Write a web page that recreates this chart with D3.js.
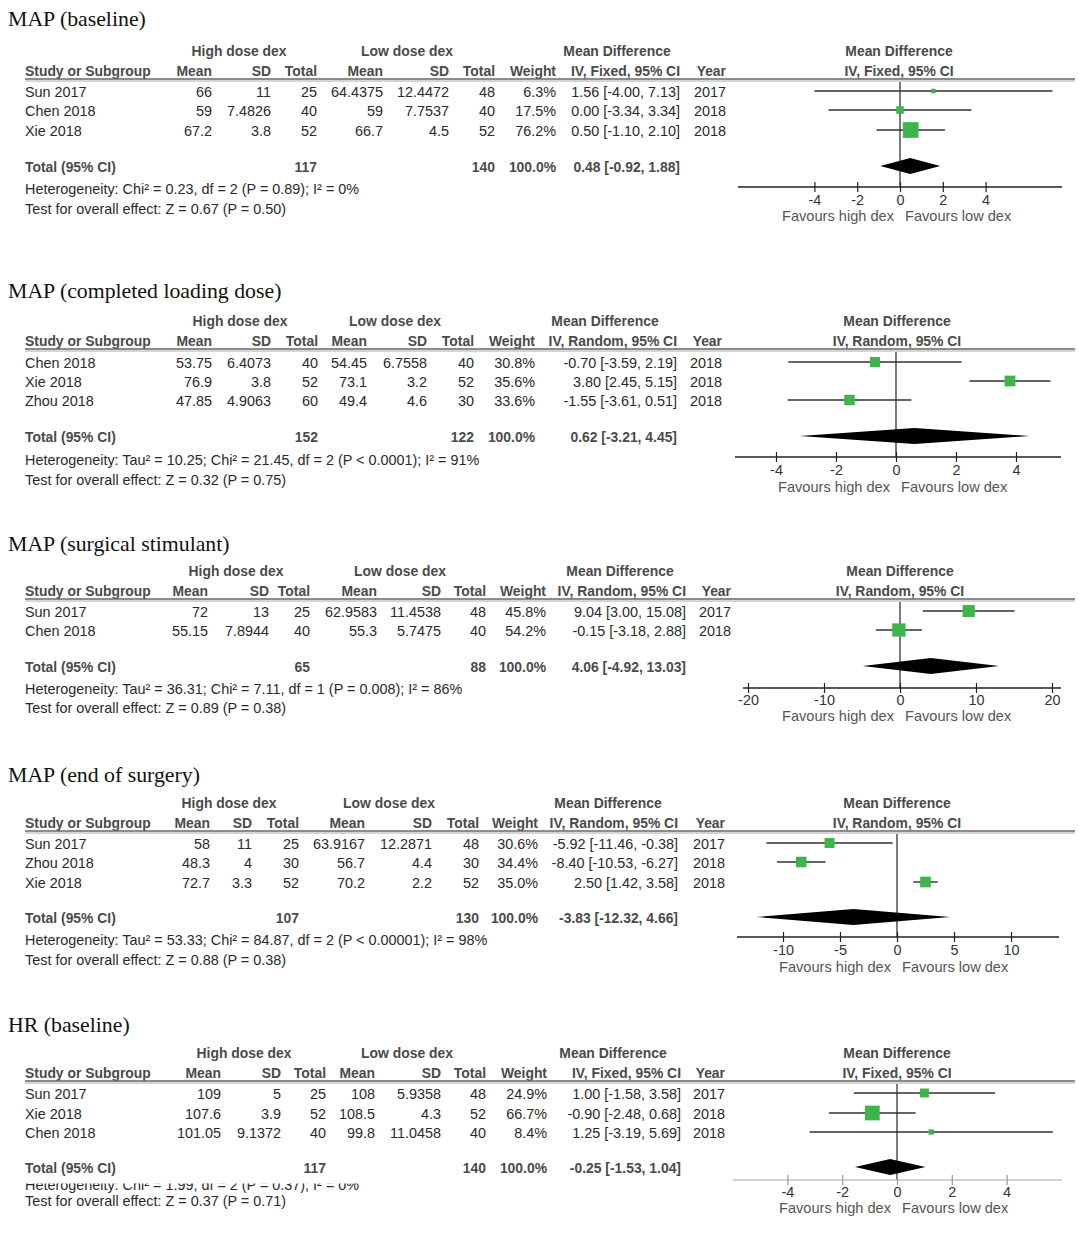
<!DOCTYPE html>
<html><head><meta charset="utf-8">
<script src="https://cdn.jsdelivr.net/npm/d3@7"></script>
<style>
html,body{margin:0;padding:0;background:#fff;}
svg{display:block;}
</style></head>
<body>
<script>
// ---------------- DATA ----------------
const panelTitles = ["MAP (baseline)", "MAP (completed loading dose)", "MAP (surgical stimulant)", "MAP (end of surgery)", "HR (baseline)"];
const methods = ["IV, Fixed, 95% CI", "IV, Random, 95% CI", "IV, Random, 95% CI", "IV, Random, 95% CI", "IV, Fixed, 95% CI"];
const studies = [
  ["Sun 2017", "Chen 2018", "Xie 2018"],
  ["Chen 2018", "Xie 2018", "Zhou 2018"],
  ["Sun 2017", "Chen 2018"],
  ["Sun 2017", "Zhou 2018", "Xie 2018"],
  ["Sun 2017", "Xie 2018", "Chen 2018"]
];
const years = [
  [2017, 2018, 2018], [2018, 2018, 2018], [2017, 2018], [2017, 2018, 2018], [2017, 2018, 2018]
];
const highMean = [[66, 59, 67.2], [53.75, 76.9, 47.85], [72, 55.15], [58, 48.3, 72.7], [109, 107.6, 101.05]];
const highSD   = [[11, 7.4826, 3.8], [6.4073, 3.8, 4.9063], [13, 7.8944], [11, 4, 3.3], [5, 3.9, 9.1372]];
const highN    = [[25, 40, 52], [40, 52, 60], [25, 40], [25, 30, 52], [25, 52, 40]];
const lowMean  = [[64.4375, 59, 66.7], [54.45, 73.1, 49.4], [62.9583, 55.3], [63.9167, 56.7, 70.2], [108, 108.5, 99.8]];
const lowSD    = [[12.4472, 7.7537, 4.5], [6.7558, 3.2, 4.6], [11.4538, 5.7475], [12.2871, 4.4, 2.2], [5.9358, 4.3, 11.0458]];
const lowN     = [[48, 40, 52], [40, 52, 30], [48, 40], [48, 30, 52], [48, 52, 40]];
const weights  = [[6.3, 17.5, 76.2], [30.8, 35.6, 33.6], [45.8, 54.2], [30.6, 34.4, 35.0], [24.9, 66.7, 8.4]];
const md       = [[1.56, 0.00, 0.50], [-0.70, 3.80, -1.55], [9.04, -0.15], [-5.92, -8.40, 2.50], [1.00, -0.90, 1.25]];
const ciLow    = [[-4.00, -3.34, -1.10], [-3.59, 2.45, -3.61], [3.00, -3.18], [-11.46, -10.53, 1.42], [-1.58, -2.48, -3.19]];
const ciHigh   = [[7.13, 3.34, 2.10], [2.19, 5.15, 0.51], [15.08, 2.88], [-0.38, -6.27, 3.58], [3.58, 0.68, 5.69]];
const totalHighN = [117, 152, 65, 107, 117];
const totalLowN  = [140, 122, 88, 130, 140];
const totalMD    = [0.48, 0.62, 4.06, -3.83, -0.25];
const totalLow   = [-0.92, -3.21, -4.92, -12.32, -1.53];
const totalHigh  = [1.88, 4.45, 13.03, 4.66, 1.04];
const heterogeneity = [
  "Heterogeneity: Chi² = 0.23, df = 2 (P = 0.89); I² = 0%",
  "Heterogeneity: Tau² = 10.25; Chi² = 21.45, df = 2 (P < 0.0001); I² = 91%",
  "Heterogeneity: Tau² = 36.31; Chi² = 7.11, df = 1 (P = 0.008); I² = 86%",
  "Heterogeneity: Tau² = 53.33; Chi² = 84.87, df = 2 (P < 0.00001); I² = 98%",
  "Heterogeneity: Chi² = 1.99, df = 2 (P = 0.37); I² = 0%"
];
const overallEffect = [
  "Test for overall effect: Z = 0.67 (P = 0.50)",
  "Test for overall effect: Z = 0.32 (P = 0.75)",
  "Test for overall effect: Z = 0.89 (P = 0.38)",
  "Test for overall effect: Z = 0.88 (P = 0.38)",
  "Test for overall effect: Z = 0.37 (P = 0.71)"
];
const axisTicks = [[-4, -2, 0, 2, 4], [-4, -2, 0, 2, 4], [-20, -10, 0, 10, 20], [-10, -5, 0, 5, 10], [-4, -2, 0, 2, 4]];
const groupLabels = ["High dose dex", "Low dose dex"];
const favourLabels = ["Favours high dex", "Favours low dex"];

// ---------------- LAYOUT ----------------
const layout = [
  {title:19, h1:51, h2:71, rule:80, rows:[92,111,131], total:167, het:189, test:209, axis:187, ticks:200, fav:216,
   cols:[212,271,317,383,449,495,556,680,726], grp:[239,407,617,899], zero:900, ppu:21.4, ax0:738, ax1:1062},
  {title:291, h1:321, h2:341, rule:350, rows:[363,382,401], total:437, het:460, test:480, axis:457, ticks:470, fav:487,
   cols:[212,271,318,367,427,474,535,677,722], grp:[240,395,605,897], zero:896, ppu:30, ax0:735, ax1:1061},
  {title:544, h1:571, h2:591, rule:600, rows:[612,631], total:667, het:689, test:708, axis:688, ticks:700, fav:716,
   cols:[208,269,310,377,441,486,546,686,731], grp:[236,400,620,900], zero:900, ppu:7.6, ax0:743, ax1:1061},
  {title:775, h1:803, h2:823, rule:832, rows:[844,863,883], total:918, het:940, test:960, axis:937, ticks:950, fav:967,
   cols:[210,252,299,365,432,479,538,678,725], grp:[229,389,608,897], zero:897, ppu:11.4, ax0:737, ax1:1059},
  {title:1025, h1:1053, h2:1073, rule:1082, rows:[1094,1114,1133], total:1168, het:1185, test:1201, axis:1180, ticks:1192, fav:1208,
   cols:[221,281,326,375,441,486,547,681,725], grp:[244,407,613,897], zero:897, ppu:27.4, ax0:733, ax1:1062,
   hetClip:1183.5, axisColor:"#c4c4c4"}
];

const W = 1079, H = 1241;
const FONT = "'Liberation Sans', Arial, sans-serif";
const SERIF = "'Liberation Serif', 'Times New Roman', serif";
const fs = 14.4, fsBold = 13.9, base = 5;
const sizeScale = d3.scaleSqrt().domain([0, 100]).range([0, 18]);
const fmt2 = v => v.toFixed(2);
const ciText = (m, l, h) => `${fmt2(m)} [${fmt2(l)}, ${fmt2(h)}]`;

const svg = d3.select("body").append("svg").attr("width", W).attr("height", H)
  .style("font-family", FONT);
svg.append("rect").attr("width", W).attr("height", H).attr("fill", "#fff");

layout.forEach((L, p) => {
  const g = svg.append("g");
  const txt = (x, y, s, opt = {}) => g.append("text")
    .attr("x", x).attr("y", y + base)
    .attr("text-anchor", opt.anchor || "start")
    .attr("font-size", opt.size || (opt.bold ? fsBold : fs))
    .attr("font-weight", opt.bold ? "bold" : "normal")
    .attr("fill", opt.fill || "#2a2a2a")
    .text(s);

  // Title
  g.append("text").attr("x", 8).attr("y", L.title + 7)
    .attr("font-family", SERIF).attr("font-size", 21.8).attr("fill", "#111")
    .text(panelTitles[p]);

  const hc = "#4a4a4a";
  // header row 1
  txt(L.grp[0], L.h1, groupLabels[0], {anchor: "middle", bold: true, fill: hc});
  txt(L.grp[1], L.h1, groupLabels[1], {anchor: "middle", bold: true, fill: hc});
  txt(L.grp[2], L.h1, "Mean Difference", {anchor: "middle", bold: true, fill: hc});
  txt(L.grp[3], L.h1, "Mean Difference", {anchor: "middle", bold: true, fill: hc});
  // header row 2
  txt(25, L.h2, "Study or Subgroup", {bold: true, fill: hc});
  const hdr = ["Mean", "SD", "Total", "Mean", "SD", "Total", "Weight", methods[p], "Year"];
  hdr.forEach((h, i) => txt(L.cols[i], L.h2, h, {anchor: "end", bold: true, fill: hc}));
  txt(L.grp[3], L.h2, methods[p], {anchor: "middle", bold: true, fill: hc});

  // header rule (double gray)
  g.append("line").attr("x1", 25).attr("x2", 1075).attr("y1", L.rule - 1).attr("y2", L.rule - 1)
    .attr("stroke", "#666").attr("stroke-width", 1.6);
  g.append("line").attr("x1", 25).attr("x2", 1075).attr("y1", L.rule + 1).attr("y2", L.rule + 1)
    .attr("stroke", "#aaa").attr("stroke-width", 1);

  // scale for forest plot
  const x = d3.scaleLinear()
    .domain([(L.ax0 - L.zero) / L.ppu, (L.ax1 - L.zero) / L.ppu])
    .range([L.ax0, L.ax1]);

  // zero line
  g.append("line").attr("x1", x(0)).attr("x2", x(0)).attr("y1", L.rule + 2).attr("y2", L.axis)
    .attr("stroke", "#222").attr("stroke-width", 1.2);

  // study rows
  studies[p].forEach((s, i) => {
    const y = L.rows[i];
    txt(25, y, s);
    const vals = [String(highMean[p][i]), String(highSD[p][i]), String(highN[p][i]),
                  String(lowMean[p][i]), String(lowSD[p][i]), String(lowN[p][i]),
                  weights[p][i].toFixed(1) + "%", ciText(md[p][i], ciLow[p][i], ciHigh[p][i]),
                  String(years[p][i])];
    vals.forEach((v, j) => txt(L.cols[j], y, v, {anchor: "end"}));
    // CI line
    g.append("line").attr("x1", x(ciLow[p][i])).attr("x2", x(ciHigh[p][i]))
      .attr("y1", y - 1).attr("y2", y - 1).attr("stroke", "#333").attr("stroke-width", 1.4);
    const sz = Math.max(4, sizeScale(weights[p][i]));
    g.append("rect").attr("x", x(md[p][i]) - sz / 2).attr("y", y - 1 - sz / 2)
      .attr("width", sz).attr("height", sz).attr("fill", "#3db54a");
  });

  // total row
  txt(25, L.total, "Total (95% CI)", {bold: true, fill: hc});
  txt(L.cols[2], L.total, String(totalHighN[p]), {anchor: "end", bold: true, fill: hc});
  txt(L.cols[5], L.total, String(totalLowN[p]), {anchor: "end", bold: true, fill: hc});
  txt(L.cols[6], L.total, "100.0%", {anchor: "end", bold: true, fill: hc});
  txt(L.cols[7], L.total, ciText(totalMD[p], totalLow[p], totalHigh[p]), {anchor: "end", bold: true, fill: hc});

  // diamond
  const dy = L.total - 1, dh = 8;
  g.append("path")
    .attr("d", `M${x(totalLow[p])},${dy}L${x(totalMD[p])},${dy - dh}L${x(totalHigh[p])},${dy}L${x(totalMD[p])},${dy + dh}Z`)
    .attr("fill", "#000");

  // heterogeneity & overall effect
  const het = txt(25, L.het, heterogeneity[p]);
  if (L.hetClip) {
    const cid = "clip" + p;
    svg.append("clipPath").attr("id", cid).append("rect")
      .attr("x", 0).attr("y", L.hetClip).attr("width", 700).attr("height", 30);
    het.attr("clip-path", `url(#${cid})`);
  }
  txt(25, L.test, overallEffect[p]);

  // x axis
  const axG = g.append("g").attr("transform", `translate(0,${L.axis})`);
  const axisCol = L.axisColor || "#222";
  axG.append("line").attr("x1", L.ax0).attr("x2", L.ax1).attr("y1", 0).attr("y2", 0)
    .attr("stroke", axisCol).attr("stroke-width", 1.4);
  const ax = d3.axisBottom(x).tickValues(axisTicks[p]).tickSize(0).tickFormat(d => String(d));
  const a = axG.append("g").call(ax);
  a.select(".domain").remove();
  a.selectAll(".tick text").attr("font-size", fs).attr("font-family", FONT).attr("fill", "#333")
    .attr("dy", 0).attr("y", L.ticks - L.axis + base);
  a.selectAll(".tick").append("line").attr("y1", -5).attr("y2", 5)
    .attr("stroke", L.axisColor ? "#999" : "#222").attr("stroke-width", 1.2);

  // favours labels
  txt(x(0) - 6, L.fav, favourLabels[0], {anchor: "end", fill: "#555", size: 14.6});
  txt(x(0) + 5, L.fav, favourLabels[1], {anchor: "start", fill: "#555", size: 14.6});
});
</script>
</body></html>
